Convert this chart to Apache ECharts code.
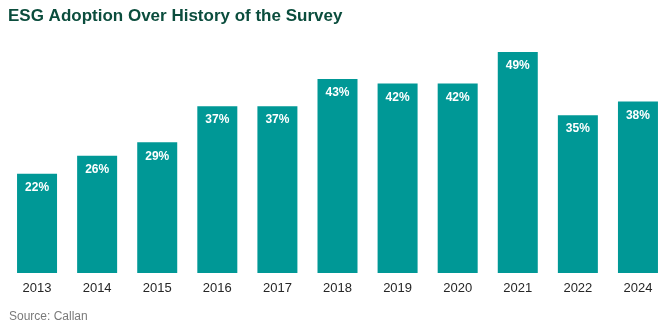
<!DOCTYPE html>
<html>
<head>
<meta charset="utf-8">
<script src="https://cdn.jsdelivr.net/npm/echarts@6/dist/echarts.min.js"></script>
<style>
  html, body { margin: 0; padding: 0; background: #fff; }
  #chart { width: 668px; height: 329px; }
</style>
</head>
<body>
<div id="chart"></div>
<script>
// Survey years and share of respondents using ESG factors (%)
const years = ['2013', '2014', '2015', '2016', '2017', '2018', '2019', '2020', '2021', '2022', '2024'];
const adoption = [22, 26, 29, 37, 37, 43, 42, 42, 49, 35, 38];

const chart = echarts.init(document.getElementById('chart'), null, { renderer: 'canvas' });

chart.setOption({
  animation: false,
  backgroundColor: '#ffffff',
  title: [
    {
      text: 'ESG Adoption Over History of the Survey',
      left: 8,
      top: 8,
      padding: 0,
      textStyle: {
        fontFamily: 'Liberation Sans, Arial, sans-serif',
        fontSize: 17,
        fontWeight: 'bold',
        color: '#0b4d3d'
      }
    },
    {
      text: 'Source: Callan',
      left: 9,
      top: 311,
      padding: 0,
      textStyle: {
        fontFamily: 'Liberation Sans, Arial, sans-serif',
        fontSize: 12,
        fontWeight: 'normal',
        color: '#7a7a7a'
      }
    }
  ],
  grid: { left: 7, right: 0, top: 47.5, bottom: 56, containLabel: false },
  xAxis: {
    type: 'category',
    data: years,
    axisLine: { show: false },
    axisTick: { show: false },
    axisLabel: {
      margin: 9,
      fontFamily: 'Liberation Sans, Arial, sans-serif',
      fontSize: 13,
      color: '#262626'
    }
  },
  yAxis: {
    type: 'value',
    min: 0,
    max: 50,
    show: false,
    splitLine: { show: false }
  },
  series: [{
    type: 'bar',
    data: adoption,
    barWidth: 40,
    itemStyle: { color: '#009896' },
    label: {
      show: true,
      position: 'insideTop',
      distance: 8,
      formatter: '{c}%',
      fontFamily: 'Liberation Sans, Arial, sans-serif',
      fontSize: 12,
      fontWeight: 'bold',
      color: '#ffffff'
    }
  }]
});
</script>
</body>
</html>
